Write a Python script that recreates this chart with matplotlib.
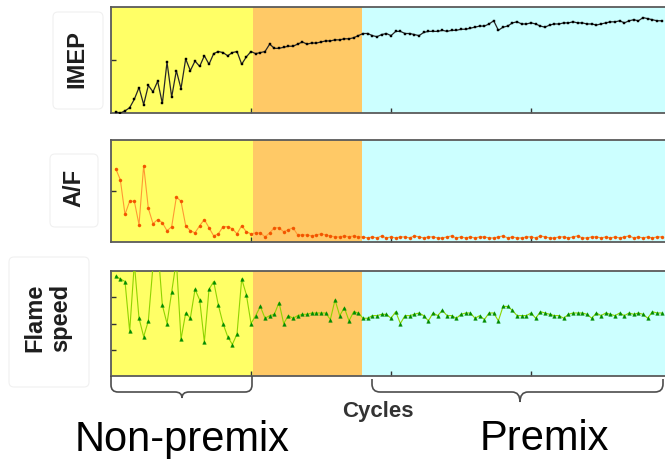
import numpy as np
import matplotlib
matplotlib.use("Agg")
import matplotlib.pyplot as plt
from matplotlib.path import Path
from matplotlib.patches import PathPatch, FancyBboxPatch

plt.rcParams['font.family'] = ['Liberation Sans', 'DejaVu Sans']

# ---- cycle-resolved engine data (arbitrary units) ----
# IMEP
imep_nonpremix = [0.1, 0.0, 0.2, 0.5, 1.3, 2.4, 0.8, 2.6, 2.0, 3.0,
                  0.9, 4.8, 1.5, 4.0, 2.3, 5.1, 4.0, 4.9, 4.4, 5.4,
                  4.6, 5.6, 5.8, 5.7, 5.4, 5.7, 5.8, 4.6, 5.3, 5.8]
imep_transition = [5.6, 5.7, 5.8, 6.5, 6.1, 6.1, 6.2, 6.3, 6.3, 6.5,
                   6.7, 6.5, 6.6, 6.6, 6.7, 6.8, 6.8, 6.9, 6.9, 7.0,
                   7.0, 7.1, 7.3]
imep_premix = [7.5, 7.5, 7.3, 7.2, 7.4, 7.5, 7.3, 7.7, 7.7, 7.5,
               7.5, 7.4, 7.3, 7.6, 7.7, 7.7, 7.7, 7.8, 7.7, 7.8,
               7.8, 7.9, 7.9, 8.0, 8.1, 8.2, 8.2, 8.4, 8.7, 7.8,
               8.1, 8.2, 8.5, 8.6, 8.4, 8.4, 8.5, 8.4, 8.2, 8.1,
               8.3, 8.4, 8.4, 8.5, 8.5, 8.6, 8.5, 8.5, 8.4, 8.4,
               8.3, 8.4, 8.5, 8.6, 8.6, 8.7, 8.5, 8.7, 8.8, 8.7,
               9.0, 8.9, 8.8, 8.7, 8.7]

# Air/fuel ratio deviation
af_nonpremix = [7.2, 6.1, 2.7, 4.0, 4.0, 1.7, 7.5, 3.3, 1.8, 2.2,
                1.9, 1.1, 1.5, 4.4, 4.0, 1.6, 1.1, 0.9, 1.6, 2.2,
                1.4, 0.6, 0.8, 1.5, 1.5, 1.3, 0.8, 1.6, 1.0, 0.8]
af_transition = [0.9, 0.9, 0.5, 0.9, 1.4, 1.4, 1.0, 1.2, 1.4, 0.7,
                 0.7, 0.7, 0.6, 0.7, 0.8, 0.7, 0.6, 0.5, 0.5, 0.6,
                 0.5, 0.6, 0.5]
af_premix = [0.5, 0.4, 0.5, 0.4, 0.6, 0.4, 0.5, 0.4, 0.5, 0.5,
             0.4, 0.6, 0.5, 0.4, 0.5, 0.5, 0.4, 0.4, 0.5, 0.6,
             0.4, 0.5, 0.4, 0.5, 0.4, 0.5, 0.5, 0.4, 0.4, 0.5,
             0.6, 0.4, 0.5, 0.4, 0.4, 0.5, 0.5, 0.4, 0.6, 0.5,
             0.4, 0.4, 0.5, 0.5, 0.4, 0.5, 0.6, 0.4, 0.4, 0.5,
             0.5, 0.4, 0.5, 0.4, 0.5, 0.4, 0.5, 0.6, 0.4, 0.5,
             0.4, 0.5, 0.4, 0.5, 0.5]

# Flame speed
flame_nonpremix = [3.8, 3.7, 3.6, 1.7, 4.3, 2.2, 1.5, 2.1, 4.2, 5.0,
                   2.7, 2.0, 3.2, 4.4, 1.4, 2.4, 2.2, 3.3, 2.9, 1.3,
                   3.3, 3.6, 2.7, 2.0, 1.5, 1.2, 1.6, 3.7, 3.1, 2.0]
flame_transition = [2.3, 2.65, 2.2, 2.3, 2.35, 2.8, 2.0, 2.3, 2.2, 2.3,
                    2.35, 2.35, 2.4, 2.4, 2.4, 2.4, 2.15, 2.9, 2.3, 2.6,
                    2.1, 2.45, 2.4]
flame_premix = [2.2, 2.2, 2.3, 2.3, 2.35, 2.35, 2.2, 2.45, 2.0, 2.3,
                2.3, 2.35, 2.4, 2.3, 2.1, 2.4, 2.3, 2.5, 2.3, 2.3,
                2.2, 2.35, 2.4, 2.4, 2.2, 2.3, 2.15, 2.4, 2.4, 2.1,
                2.65, 2.65, 2.5, 2.3, 2.3, 2.3, 2.4, 2.2, 2.45, 2.4,
                2.35, 2.3, 2.3, 2.2, 2.35, 2.4, 2.4, 2.4, 2.35, 2.2,
                2.4, 2.3, 2.4, 2.35, 2.3, 2.4, 2.3, 2.4, 2.35, 2.4,
                2.35, 2.2, 2.45, 2.4, 2.4]

# operating phases (cycle boundaries) and their shading
phase_edges = [0, 30.4, 53.8, 118.7]
phase_colors = ['#FFFF66', '#FFC966', '#CCFFFF']
cycle_ticks = [30, 60, 90]

imep = imep_nonpremix + imep_transition + imep_premix
af = af_nonpremix + af_transition + af_premix
flame = flame_nonpremix + flame_transition + flame_premix
cycles = np.arange(1, len(imep) + 1)

W, H = 665, 460
fig = plt.figure(figsize=(W / 100, H / 100), dpi=100)


def panel(top, bottom, left=111, right=665):
    return fig.add_axes([left / W, 1 - bottom / H, (right - left) / W, (bottom - top) / H])


panels = [
    dict(top=8, bottom=114, y=imep, ylim=(0, 10), yticks=[5],
         lc='#262626', mc='#000000', marker='s', ms=2.1, lw=0.9),
    dict(top=141, bottom=243, y=af, ylim=(0, 10), yticks=[5],
         lc='#FF9933', mc='#F25500', marker='o', ms=2.2, lw=0.8),
    dict(top=272, bottom=377, y=flame, ylim=(0, 4), yticks=[1, 2, 3],
         lc='#8FD400', mc='#008C00', marker='^', ms=2.6, lw=0.8),
]

for p in panels:
    ax = panel(p['top'], p['bottom'])
    for (e0, e1), col in zip(zip(phase_edges[:-1], phase_edges[1:]), phase_colors):
        ax.axvspan(e0, e1, color=col, lw=0, zorder=0)
    ax.plot(cycles, p['y'], color=p['lc'], lw=p['lw'], marker=p['marker'],
            ms=p['ms'], mfc=p['mc'], mec=p['mc'], mew=0.3, zorder=3)
    ax.set_xlim(phase_edges[0], phase_edges[-1])
    ax.set_ylim(*p['ylim'])
    ax.set_xticks(cycle_ticks)
    ax.set_yticks(p['yticks'])
    ax.tick_params(direction='in', length=3.5, width=1, colors='#333333',
                   labelbottom=False, labelleft=False)
    ax.spines['right'].set_visible(False)
    for s in ('left', 'top', 'bottom'):
        ax.spines[s].set_color('#5a5a5a')
        ax.spines[s].set_linewidth(1.3)

# annotation layer in pixel units
ov = fig.add_axes([0, 0, 1, 1])
ov.set_xlim(0, W)
ov.set_ylim(H, 0)
ov.axis('off')
ov.patch.set_alpha(0)

label_boxes = [
    ((53, 13, 50, 97), (77, 59), 'IMEP'),
    ((50, 155, 48, 73), (74, 188), 'A/F'),
    ((9, 258, 80, 130), (48, 318), 'Flame\nspeed'),
]
for (bx, by, bw, bh), (tx, ty), txt in label_boxes:
    ov.add_patch(FancyBboxPatch((bx, by), bw, bh,
                                boxstyle='round,pad=0,rounding_size=5',
                                fc='white', ec='#f0f0f0', lw=0.8))
    ov.text(tx, ty, txt, rotation=90, ha='center', va='center',
            fontsize=17, fontweight='bold', color='#1e1e1e',
            multialignment='left', linespacing=1.15)


def brace(x0, x1, xtip, ytop, ymid, ytip, r=7):
    verts = [(x0, ytop), (x0, ymid - r), (x0, ymid), (x0 + r, ymid),
             (xtip - r, ymid), (xtip, ymid), (xtip, ytip),
             (xtip, ymid), (xtip + r, ymid),
             (x1 - r, ymid), (x1, ymid), (x1, ymid - r), (x1, ytop)]
    codes = [Path.MOVETO, Path.LINETO, Path.CURVE3, Path.CURVE3,
             Path.LINETO, Path.CURVE3, Path.CURVE3,
             Path.CURVE3, Path.CURVE3,
             Path.LINETO, Path.CURVE3, Path.CURVE3, Path.LINETO]
    ov.add_patch(PathPatch(Path(verts, codes), fc='none', ec='#4d4d4d', lw=1.2))


brace(111, 252, 182, 377, 393, 399, r=7)
brace(372, 663, 520, 380, 393, 403, r=8)

ov.text(378, 412, 'Cycles', ha='center', va='center', fontsize=16,
        fontweight='bold', color='#333333')
ov.text(182, 451, 'Non-premix', ha='center', va='baseline', fontsize=30,
        color='black')
ov.text(544, 450, 'Premix', ha='center', va='baseline', fontsize=30,
        color='black')

fig.savefig('out.png', dpi=100)
